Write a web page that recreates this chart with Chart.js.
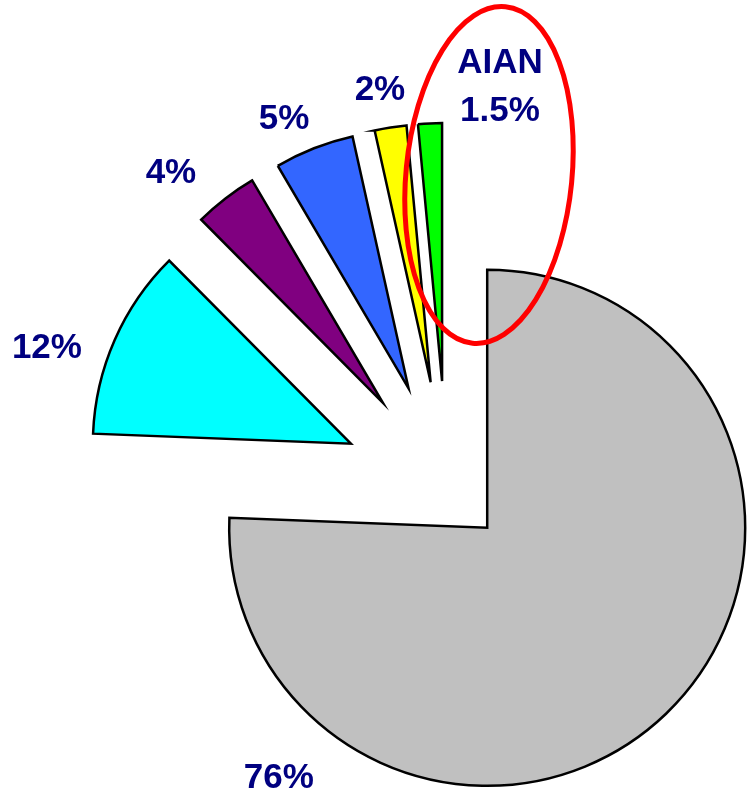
<!DOCTYPE html>
<html lang="en">
<head>
<meta charset="UTF-8">
<title>AIAN share</title>
<script src="https://cdn.jsdelivr.net/npm/chart.js@4.4.1/dist/chart.umd.min.js"></script>
<style>
  body { margin: 0; background: #fff; }
  #wrap { width: 747px; height: 793px; position: relative; }
</style>
</head>
<body>
<div id="wrap"><canvas id="myChart"></canvas></div>
<script>
// slices clockwise from 12 o'clock, values in percent
const categories = ['', '', '', '', '', 'AIAN'];
const values = [76, 12, 4, 5, 2, 1.5];
const sliceColors = ['#c0c0c0', '#00ffff', '#800080', '#3366ff', '#ffff00', '#00ff00'];

// how far each slice is pulled out of the pie, px
const pullOut = [58, 105, 105, 105, 105, 105];
const R = 258;

// label placement: turn from the slice bisector (deg) and distance from pie centre (px)
const labelTurn = [74, -4.4, -3.6, -2.3, -0.6, 10.2];
const labelDist = [335, 424, 419, 404, 404, 405];

const navy = '#000080';
const labelFont = 'bold 35px "Liberation Sans", Arial, sans-serif';

// Chart.js grows a pulled out arc by offset/4 * (1 - sin(circ)) and trims its
// angle by that amount / PI; undo both so slices keep their size
const keepShape = {
    id: 'keepShape',
    afterDatasetsUpdate(chart) {
        chart.getDatasetMeta(0).data.forEach(function(arc) {
            let d = (arc.options.offset || 0) / 4;
            let grow = d * (1 - Math.sin(Math.min(Math.PI, arc.circumference)));
            let trim = grow / Math.PI / R / 2;
            arc.outerRadius = R - grow;
            arc.startAngle -= trim;
            arc.endAngle += trim;
        });
    }
};

const sliceLabels = {
    id: 'sliceLabels',
    afterDatasetsDraw(chart) {
        const ctx = chart.ctx;
        const arcs = chart.getDatasetMeta(0).data;
        ctx.save();
        ctx.font = labelFont;
        ctx.fillStyle = navy;
        ctx.textAlign = 'center';
        ctx.textBaseline = 'alphabetic';
        arcs.forEach(function(arc, i) {
            let a = (arc.startAngle + arc.endAngle) / 2 + labelTurn[i] * Math.PI / 180;
            let x = arc.x + Math.cos(a) * labelDist[i];
            let y = arc.y + Math.sin(a) * labelDist[i] + 12.5;
            let pct = values[i] + '%';
            if (categories[i]) {
                ctx.fillText(categories[i], x, y - 24);
                ctx.fillText(pct, x, y + 24);
            } else {
                ctx.fillText(pct, x, y);
            }
        });

        // red ring drawn round the AIAN slice and label
        let c = arcs[arcs.length - 1];
        ctx.beginPath();
        ctx.ellipse(c.x + 42, c.y - 311, 83, 169, 5.6 * Math.PI / 180, 0, Math.PI * 2);
        ctx.strokeStyle = '#ff0000';
        ctx.lineWidth = 5;
        ctx.stroke();
        ctx.restore();
    }
};

const ctx = document.getElementById('myChart').getContext('2d');
const myChart = new Chart(ctx, {
    type: 'pie',
    data: {
        labels: categories,
        datasets: [{
            data: values,
            backgroundColor: sliceColors,
            borderColor: '#000000',
            borderWidth: 2.5,
            borderJoinStyle: 'miter',
            offset: pullOut.map(function(p) { return p * 4; }),
            clip: false
        }]
    },
    options: {
        responsive: true,
        maintainAspectRatio: false,
        animation: false,
        events: [],
        radius: R,
        layout: { padding: { left: 147, right: 0, top: 179, bottom: 0 } },
        plugins: {
            legend: { display: false },
            tooltip: { enabled: false }
        }
    },
    plugins: [keepShape, sliceLabels]
});
</script>
</body>
</html>
